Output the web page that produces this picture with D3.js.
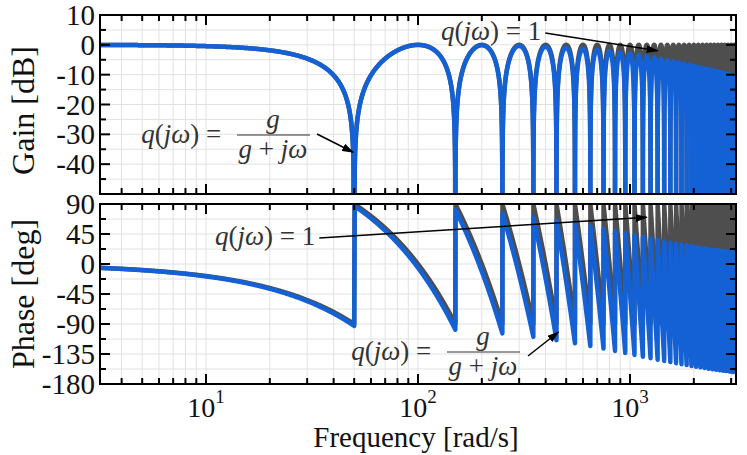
<!DOCTYPE html>
<html>
<head>
<meta charset="utf-8">
<script src="https://cdn.jsdelivr.net/npm/d3@7"></script>
<style>
  body { margin: 0; background: #fff; }
  text { font-family: "Liberation Serif", "Times New Roman", serif; }
</style>
</head>
<body>
<svg id="chart" width="747" height="455"></svg>
<script>
// values
const freqDomain = [Math.pow(10, 0.5), Math.pow(10, 3.5)]   // rad/s
const freqDecades = [1, 2, 3]                               // labelled 10^n
const gainDomain = [-50, 10]
const gainTicks = [10, 0, -10, -20, -30, -40]
const phaseDomain = [-180, 90]
const phaseTicks = [90, 45, 0, -45, -90, -135, -180]
const firstNotch = 50      // rad/s: first gain dip and phase jump
const filterG = 1000       // rad/s: bandwidth g of q(jw) = g/(g+jw)
const seriesNames = ['q(jw) = 1', 'q(jw) = g/(g+jw)']
const seriesColors = ['#4e4e4e', '#1461d6']

const width = 747
const height = 455
const left = 100, right = 736
const top1 = 15, bot1 = 194
const top2 = 204, bot2 = 384

const svg = d3.select('#chart')

const x = d3.scaleLog().domain(freqDomain).range([left, right])
const yG = d3.scaleLinear().domain(gainDomain).range([bot1, top1])
const yP = d3.scaleLinear().domain(phaseDomain).range([bot2, top2])

// frequency samples: log spaced up to the first notch, then fine linear steps
const omegas = d3.range(0, 400).map(i => freqDomain[0] * Math.pow(firstNotch / freqDomain[0], i / 400))
for (let w = firstNotch; w <= freqDomain[1]; w += 0.25) omegas.push(w)

const wrap = p => ((((p + 90) % 180) + 180) % 180) - 90

// response of (1 + e^{-jwT})/2 * q(jw), T set by the first notch
const response = omegas.map(w => {
    const c = Math.abs(Math.cos(w * Math.PI / (2 * firstNotch)))
    const g0 = Math.max(20 * Math.log10(c), -120)
    const p0 = wrap(-w * 90 / firstNotch)
    const lag = Math.atan(w / filterG) * 180 / Math.PI
    const att = -10 * Math.log10(1 + (w / filterG) ** 2)
    return { w, g: [g0, g0 + att], p: [p0, p0 - lag] }
})

// clip paths
const defs = svg.append('defs')
defs.append('clipPath').attr('id', 'clip1').append('rect')
    .attr('x', left).attr('y', top1).attr('width', right - left).attr('height', bot1 - top1)
defs.append('clipPath').attr('id', 'clip2').append('rect')
    .attr('x', left).attr('y', top2).attr('width', right - left).attr('height', bot2 - top2)
defs.append('marker')
    .attr('id', 'arrow')
    .attr('markerUnits', 'userSpaceOnUse')
    .attr('markerWidth', 12).attr('markerHeight', 8)
    .attr('refX', 11).attr('refY', 4)
    .attr('orient', 'auto')
    .append('path')
    .attr('d', 'M0,0 L12,4 L0,8 Z')
    .attr('fill', '#000')

// minor and major frequency positions
const freqGrid = []
for (let d = 0; d <= 3; d++) {
    for (let m = 1; m <= 9; m++) {
        const v = m * Math.pow(10, d)
        if (v >= freqDomain[0] && v <= freqDomain[1]) freqGrid.push({ v, major: m === 1 })
    }
}

const panels = [
    { y: yG, top: top1, bot: bot1, clip: 'clip1', key: 'g', step: 5, ticks: gainTicks, majorStep: 10 },
    { y: yP, top: top2, bot: bot2, clip: 'clip2', key: 'p', step: 22.5, ticks: phaseTicks, majorStep: 45 }
]

panels.forEach(pn => {
    const yVals = d3.range(pn.y.domain()[0], pn.y.domain()[1] + 0.001, pn.step)

    const grid = svg.append('g').attr('stroke', '#e2e2e2').attr('stroke-width', 1)
    grid.selectAll('.vx')
        .data(freqGrid)
        .join('line')
        .attr('x1', d => x(d.v)).attr('x2', d => x(d.v))
        .attr('y1', pn.top).attr('y2', pn.bot)
    grid.selectAll('.hy')
        .data(yVals)
        .join('line')
        .attr('x1', left).attr('x2', right)
        .attr('y1', d => pn.y(d)).attr('y2', d => pn.y(d))

    const curves = svg.append('g').attr('clip-path', `url(#${pn.clip})`)
    seriesNames.forEach((name, i) => {
        const line = d3.line()
            .x(d => x(d.w))
            .y(d => pn.y(d[pn.key][i]))
        curves.append('path')
            .datum(response)
            .attr('d', line)
            .attr('fill', 'none')
            .attr('stroke', seriesColors[i])
            .attr('stroke-width', 4.5)
            .attr('stroke-linejoin', 'round')
    })

    // frame and inward ticks
    svg.append('rect')
        .attr('x', left).attr('y', pn.top)
        .attr('width', right - left).attr('height', pn.bot - pn.top)
        .attr('fill', 'none').attr('stroke', '#000').attr('stroke-width', 2)

    const ticks = svg.append('g').attr('stroke', '#000').attr('stroke-width', 2)
    freqGrid.forEach(d => {
        const len = d.major ? 10 : 6
        ticks.append('line').attr('x1', x(d.v)).attr('x2', x(d.v)).attr('y1', pn.bot).attr('y2', pn.bot - len)
        ticks.append('line').attr('x1', x(d.v)).attr('x2', x(d.v)).attr('y1', pn.top).attr('y2', pn.top + len)
    })
    yVals.forEach(v => {
        const major = Math.abs(v % pn.majorStep) < 0.001
        const len = major ? 10 : 6
        ticks.append('line').attr('x1', left).attr('x2', left + len).attr('y1', pn.y(v)).attr('y2', pn.y(v))
        ticks.append('line').attr('x1', right).attr('x2', right - len).attr('y1', pn.y(v)).attr('y2', pn.y(v))
    })

    svg.append('g')
        .selectAll('text')
        .data(pn.ticks)
        .join('text')
        .attr('x', left - 5)
        .attr('y', d => pn.y(d) + 10)
        .attr('text-anchor', 'end')
        .attr('font-size', 29)
        .attr('fill', '#111')
        .text(d => d)
})

// frequency tick labels 10^n
const xl = svg.append('g')
    .selectAll('text')
    .data(freqDecades)
    .join('text')
    .attr('x', d => x(Math.pow(10, d)))
    .attr('y', 417)
    .attr('text-anchor', 'middle')
    .attr('font-size', 28)
    .attr('fill', '#111')
xl.append('tspan').text('10')
xl.append('tspan').attr('font-size', 19).attr('dy', -14).text(d => d)

// axis titles
svg.append('text')
    .attr('x', (left + right) / 2 - 2).attr('y', 447)
    .attr('text-anchor', 'middle').attr('font-size', 29).attr('fill', '#111')
    .text('Frequency [rad/s]')
svg.append('text')
    .attr('transform', `translate(34,${(top1 + bot1) / 2 + 6}) rotate(-90)`)
    .attr('text-anchor', 'middle').attr('font-size', 32).attr('fill', '#111')
    .text('Gain [dB]')
svg.append('text')
    .attr('transform', `translate(34,${(top2 + bot2) / 2}) rotate(-90)`)
    .attr('text-anchor', 'middle').attr('font-size', 32).attr('fill', '#111')
    .text('Phase [deg]')

// math annotations
const mathFill = '#333'
const mathText = (px, py, anchor, parts) => {
    const t = svg.append('text')
        .attr('x', px).attr('y', py)
        .attr('text-anchor', anchor)
        .attr('font-size', 27)
        .attr('fill', mathFill)
        .attr('xml:space', 'preserve')
    parts.forEach(([s, it]) => t.append('tspan').attr('font-style', it ? 'italic' : 'normal').text(s))
    return t
}
const lhs = [['q', 1], ['(', 0], ['jω', 1], [')', 0], [' = ', 0]]

const fraction = (px, py, tipX, tipY, fromX, fromY) => {
    // px: end of "q(jw) =", py: fraction bar height
    mathText(px, py + 8, 'end', lhs)
    svg.append('line').attr('x1', px + 9).attr('x2', px + 82)
        .attr('y1', py).attr('y2', py).attr('stroke', mathFill).attr('stroke-width', 1.2)
    mathText(px + 45, py - 7, 'middle', [['g', 1]])
    mathText(px + 45, py + 23, 'middle', [['g', 1], [' + ', 0], ['jω', 1]])
    svg.append('line')
        .attr('x1', fromX).attr('y1', fromY).attr('x2', tipX).attr('y2', tipY)
        .attr('stroke', '#000').attr('stroke-width', 1.5).attr('marker-end', 'url(#arrow)')
}

const unity = (px, py, tipX, tipY) => {
    const t = mathText(px, py, 'start', lhs.concat([['1', 0]]))
    const end = px + t.node().getComputedTextLength() + 4
    svg.append('line')
        .attr('x1', end).attr('y1', py - 7).attr('x2', tipX).attr('y2', tipY)
        .attr('stroke', '#000').attr('stroke-width', 1.5).attr('marker-end', 'url(#arrow)')
}

fraction(228, 135, x(firstNotch) - 1, yG(-36), 317, 134)
unity(441, 40, x(1350), yG(-2))
unity(215, 245, x(1200), yP(70))
fraction(438, 352, x(450) + 2, yP(-102), 528, 356)
</script>
</body>
</html>
